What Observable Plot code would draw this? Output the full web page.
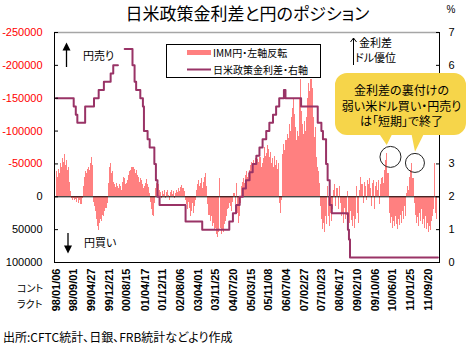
<!DOCTYPE html>
<html><head><meta charset="utf-8">
<script src="https://cdn.jsdelivr.net/npm/d3@7"></script>
<script src="https://cdn.jsdelivr.net/npm/@observablehq/plot@0.6"></script>
<style>
body{margin:0;background:#fff;}
#wrap{position:relative;width:472px;height:345px;overflow:hidden;}
#wrap svg{position:absolute;left:0;top:0;}
</style></head>
<body><div id="wrap"></div>
<script>
// ---- data ----
const immStart = "1998-01-06";           // first weekly report
const immStepWeeks = 2;                   // one value every 2 weeks
// IMM net yen position, thousands of contracts (negative = yen short)
const immValues = [
-38,-30,-42,-35,-50,-45,-58,-52,-65,-48,-55,-40,-45,-22,
-8,3,5,2,6,4,8,3,10,6,12,2,
-15,-30,-38,-35,-42,-45,-40,-50,-60,-48,
8,15,22,35,45,52,40,34,38,28,30,22,18,10,
-20,-45,-51,-35,
-38,-22,-18,-14,-20,-16,-12,-18,-15,-10,-22,-30,-28,-18,-20,
-25,-32,-38,-40,-44,-45,-42,-36,-40,-32,-30,-22,
-28,-25,-18,-12,-16,-20,-26,-18,-14,-5,8,20,28,30,10,
-12,-20,-18,-10,-6,2,-8,-4,-10,3,-6,-9,-2,5,-7,-10,-4,-8,2,-5,-9,-6,-12,-8,
-14,-17,-12,-8,5,12,20,8,18,30,
22,10,25,15,5,-10,
-18,-25,-15,-20,-28,-12,-22,-30,-36,-15,
12,28,38,30,45,40,52,48,58,62,55,-28,48,58,52,55,42,38,30,20,
18,10,15,22,8,-5,12,-20,25,40,
30,10,-15,-22,-28,-20,-32,-38,-30,-35,
-40,-48,-52,-45,-55,-50,-58,-48,-56,-52,-60,-45,-50,
-58,-75,-62,-66,-78,-72,-60,-68,
-50,-58,-45,-62,-48,-55,-42,-50,
10,25,5,
-65,-80,-70,-85,
-95,-88,-110,-100,-120,-135,-150,-125,
-105,-85,-100,-92,
-150,-178,-130,
-110,-95,-115,-100,-120,
-150,-172,-160,-178,-165,
-120,-90,-105,-60,-45,-38,-20,
15,35,50,40,55,30,42,
-15,
30,45,25,38,20,
-10,-18,15,-12,20,-15,10,30,25,40,18,35,28,-8,32,40,22,36,
45,30,48,35,-15,25,40,
-10,-30,-18,10,-22,-15,5,-25,-18,-28,-12,15,-20,-25,20,-15,-22,-10,-25,12,-18,-28,
-30,-20,-40,-55,-66,-35,
25,40,32,48,38,45,30,42,50,35,44,28,40,22,35,15,30,
-5,-15,-10,-30,-40,-50,-28,
10,28,40,32,45,25,38,20,42,35,48,30,
50,40,55,45,52,38,30,20,-50,25,35
];
// Japan-US policy rate differential (%), weeks since immStart when it changed
const rateWeeks = [0,34,38,41,56,73,82,92,105,110,119,120,132,147,151,154,162,167,169,176,180,189,192,195,199,249,281,333,340,346,353,359,365,372,378,385,391,397,404,410,417,423,429,438,441,471,503,510,513,519,522,526,530,561,563,565,734];
const rateValues = [5.0,4.75,4.5,4.25,4.75,5.0,5.25,5.5,5.75,6.0,6.0,null,6.5,6.0,5.5,5.25,5.0,4.75,4.0,3.75,3.5,3.0,2.5,2.0,1.75,1.25,1.0,1.25,1.5,1.75,2.0,2.25,2.5,2.75,3.0,3.25,3.5,3.75,4.0,4.25,4.5,4.75,5.0,5.25,5.0,4.75,4.25,4.0,3.75,3.0,2.5,1.75,1.5,1.0,0.7,0.15,0.15];
const tickLabels = ["98/01/06","98/09/01","99/04/27","99/12/21","00/08/15","01/04/17","01/12/11","02/08/06","03/04/01","03/11/25","04/07/20","05/03/15","05/11/08","06/07/04","07/02/27","07/10/23","08/06/17","09/02/10","09/10/06","10/06/01","11/01/25","11/09/20"];
const leftTicksNeg = [-250000,-200000,-150000,-100000,-50000];
const leftTicksPos = [0,50000,100000];
const rightTicks = [0,1,2,3,4,5,6,7];
const rightLabelled = [0,1,2,3,6,7];   // 4 and 5 are hidden behind the callout

// ---- build ----
const d0 = Date.parse(immStart + "T00:00:00Z");
const WEEK = 7*864e5;
const wk = w => new Date(d0 + w*WEEK);
const imm = immValues.map((v,i)=>({d1: wk(i*immStepWeeks), d2: wk((i+1)*immStepWeeks), v: v*1000}));
const rate = rateWeeks.map((w,i)=>({date: wk(w), r: rateValues[i]}));
const rateToY = r => 100000 - r*50000;   // right axis 0..7 <-> left axis 100000..-250000
const tickDates = tickLabels.map(s => {const [yy,mm,dd]=s.split("/").map(Number); return new Date(Date.UTC(yy<50?2000+yy:1900+yy, mm-1, dd));});
const labelOf = new Map(tickDates.map((d,i)=>[+d, tickLabels[i]]));
const xDom = [wk(-2.9), wk(737)];
const mid = d => new Date((+d.d1 + +d.d2)/2);

const chart = Plot.plot({
  width: 472, height: 345,
  marginTop: 32, marginBottom: 83, marginLeft: 54, marginRight: 33,
  style: {fontFamily: "'Liberation Sans', Arial, sans-serif", fontSize: "11px", background: "white", overflow: "visible"},
  x: {type: "utc", domain: xDom, label: null},
  y: {domain: [100000, -250000], label: null},
  marks: [
    Plot.rect(imm, {x1: "d1", x2: "d2", y1: () => 0, y2: "v", fill: "#FF8080", shapeRendering: "crispEdges"}),
    Plot.ruleY([0], {stroke: "#000", strokeWidth: 1}),
    Plot.line(rate, {x: "date", y: d => d.r == null ? NaN : rateToY(d.r), curve: "step-after", stroke: "#993366", strokeWidth: 2}),
    Plot.ruleY([-250000], {stroke: "#a6a6a6", strokeWidth: 1.5}),
    Plot.ruleY([100000], {stroke: "#000"}),
    Plot.ruleX([xDom[0]], {stroke: "#000"}),
    Plot.ruleX([xDom[1]], {stroke: "#000"}),
    Plot.axisY(leftTicksNeg, {anchor: "left", label: null, tickSize: 0, tickPadding: 12, color: "#FF0000", tickFormat: d => String(d), fontSize: 11}),
    Plot.axisY(leftTicksPos, {anchor: "left", label: null, tickSize: 0, tickPadding: 12, color: "#000", tickFormat: d => String(d), fontSize: 11}),
    Plot.axisY(leftTicksNeg.concat(leftTicksPos), {anchor: "left", label: null, tickSize: -4, tickFormat: () => "", color: "#000"}),
    Plot.axisY(rightLabelled.map(rateToY), {anchor: "right", label: null, tickSize: 0, tickPadding: 9, tickFormat: v => String((100000 - v)/50000), fontSize: 11, color: "#000"}),
    Plot.axisY(rightTicks.map(rateToY), {anchor: "right", label: null, tickSize: -4, tickFormat: () => "", color: "#000"}),
    Plot.axisX(tickDates, {anchor: "bottom", label: null, tickSize: 0, tickPadding: 6, tickRotate: -90, tickFormat: d => labelOf.get(+d), fontSize: 11, fontWeight: "bold", color: "#000"}),
    Plot.dot([imm[318]], {x: mid, y: "v", r: 10.5, stroke: "#222", fill: "none", strokeWidth: 1, dx: 3, dy: 3.5}),
    Plot.dot([imm[342]], {x: mid, y: "v", r: 9.5, stroke: "#222", fill: "none", strokeWidth: 1, dx: 2.5, dy: -1})
  ]
});
const wrap = document.getElementById("wrap");
wrap.appendChild(chart);

// ---- annotations overlay ----
const ov = `
<svg width="472" height="345" font-family="'Noto Sans CJK JP',sans-serif" style="font-feature-settings:'palt'">
 <text x="247.5" y="12" text-anchor="middle" dominant-baseline="central" font-size="17">日米政策金利差と円のポジション</text>
 <text x="451" y="9" text-anchor="middle" dominant-baseline="central" font-size="10" font-family="'Liberation Sans',Arial">%</text>
 <rect x="166.5" y="44.5" width="154" height="33" fill="#fff" stroke="#000"/>
 <line x1="187" x2="211" y1="52.5" y2="52.5" stroke="#FF8080" stroke-width="5"/>
 <text x="213" y="52.5" dominant-baseline="central" font-size="10">IMM円・左軸反転</text>
 <line x1="187" x2="211" y1="69.5" y2="69.5" stroke="#993366" stroke-width="2"/>
 <text x="213" y="69.5" dominant-baseline="central" font-size="10">日米政策金利差・右軸</text>
 <line x1="66.5" x2="66.5" y1="49" y2="67" stroke="#000" stroke-width="1.3"/>
 <path d="M62.5,50.5 L70.5,50.5 L66.5,42.5 Z" fill="#000"/>
 <text x="83" y="55" dominant-baseline="central" font-size="11">円売り</text>
 <line x1="68" x2="68" y1="233" y2="246" stroke="#000" stroke-width="1.3"/>
 <path d="M64,245.5 L72,245.5 L68,253.5 Z" fill="#000"/>
 <text x="84" y="241.5" dominant-baseline="central" font-size="11">円買い</text>
 <line x1="353.5" x2="353.5" y1="38" y2="65" stroke="#000" stroke-width="1"/>
 <path d="M350.5,42 L353.5,38 L356.5,42" fill="none" stroke="#000" stroke-width="1"/>
 <text x="359" y="42" dominant-baseline="central" font-size="11">金利差</text>
 <text x="355" y="56.5" dominant-baseline="central" font-size="11">ドル優位</text>
 <path d="M347,73 H454 A12,12 0 0 1 466,85 V123 A12,12 0 0 1 454,135 H423.3 L415,151.7 L411.7,135 H391.7 L386.7,145 L380,135 H347 A12,12 0 0 1 335,123 V85 A12,12 0 0 1 347,73 Z" fill="#F6D54A"/>
 <text x="401.5" y="89.5" text-anchor="middle" dominant-baseline="central" font-size="12">金利差の裏付けの</text>
 <text x="401.5" y="105" text-anchor="middle" dominant-baseline="central" font-size="12">弱い米ドル買い・円売り</text>
 <text x="401.5" y="120.5" text-anchor="middle" dominant-baseline="central" font-size="12">は「短期」で終了</text>
 <text x="17" y="287" dominant-baseline="central" font-size="10">コント</text>
 <text x="17" y="303" dominant-baseline="central" font-size="10">ラクト</text>
 <text x="3" y="336" dominant-baseline="central" font-size="12">出所:CFTC統計、日銀、FRB統計などより作成</text>
</svg>`;
wrap.insertAdjacentHTML("beforeend", ov);
</script>
</body></html>
